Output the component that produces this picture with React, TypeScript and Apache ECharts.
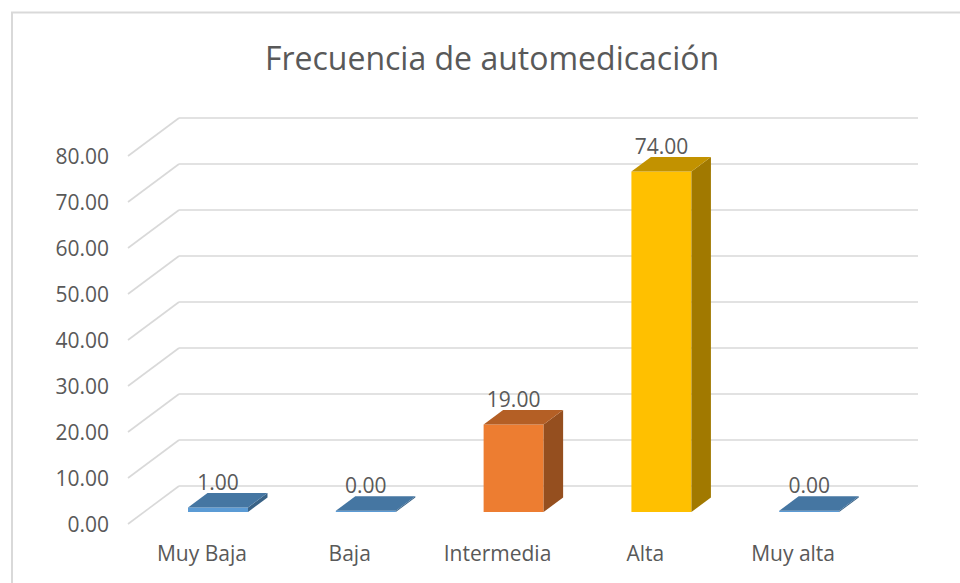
import React, { useEffect, useRef } from 'react';
import * as echarts from 'echarts';

const CATEGORIES = ['Muy Baja', 'Baja', 'Intermedia', 'Alta', 'Muy alta'];
const VALUES = [1, 0, 19, 74, 0];
const BAR_COLORS = ['#5B9BD5', '#5B9BD5', '#ED7D31', '#FFC000', '#5B9BD5'];
const Y_TICKS = [0, 10, 20, 30, 40, 50, 60, 70, 80];
const TITLE = 'Frecuencia de automedicación';

const FONT = '"Open Sans", "Noto Sans", sans-serif';
const TEXT_COLOR = '#595959';
const GRID_COLOR = '#D9D9D9';

// oblique 3D projection (floor depth, back -> front)
const FLOOR_DX = 51;
const FLOOR_DY = 38;
const BAR_FRONT = 0.684;
const BAR_DX = 19.5;
const BAR_DY = 14.5;
const BAR_W = 0.406;

function shade(hex: string, f: number): string {
  const n = parseInt(hex.slice(1), 16);
  const r = Math.round(((n >> 16) & 255) * f);
  const g = Math.round(((n >> 8) & 255) * f);
  const b = Math.round((n & 255) * f);
  return '#' + [r, g, b].map((c) => c.toString(16).padStart(2, '0')).join('');
}

export default function App() {
  const ref = useRef<HTMLDivElement>(null);

  useEffect(() => {
    if (!ref.current) return;
    const chart = echarts.init(ref.current, undefined, { renderer: 'svg' });

    const option: any = {
      animation: false,
      graphic: [
        {
          type: 'rect',
          shape: { x: 12, y: 12.5, width: 980, height: 600 },
          style: { fill: 'none', stroke: GRID_COLOR, lineWidth: 2 },
          silent: true,
        },
        {
          type: 'text',
          x: 492,
          y: 57,
          style: {
            text: TITLE,
            font: `32px ${FONT}`,
            fill: TEXT_COLOR,
            align: 'center',
            verticalAlign: 'middle',
          },
          silent: true,
        },
      ],
      grid: [
        // back wall
        { left: 179, right: 42, top: 118, bottom: 97 },
        // front plane
        { left: 128, right: 93, top: 156, bottom: 59 },
      ],
      xAxis: [
        {
          type: 'category',
          gridIndex: 0,
          data: CATEGORIES,
          show: false,
        },
        {
          type: 'category',
          gridIndex: 1,
          data: CATEGORIES,
          axisLine: { show: false },
          axisTick: { show: false },
          axisLabel: {
            margin: 18,
            color: TEXT_COLOR,
            fontFamily: FONT,
            fontSize: 21,
          },
        },
      ],
      yAxis: [
        {
          type: 'value',
          gridIndex: 0,
          min: 0,
          max: 80,
          interval: 10,
          axisLine: { show: false },
          axisTick: { show: false },
          axisLabel: { show: false },
          splitLine: { show: true, lineStyle: { color: GRID_COLOR, width: 1.6 } },
        },
        {
          type: 'value',
          gridIndex: 1,
          min: 0,
          max: 80,
          interval: 10,
          axisLine: { show: false },
          axisTick: { show: false },
          splitLine: { show: false },
          axisLabel: {
            margin: 19,
            color: TEXT_COLOR,
            fontFamily: FONT,
            fontSize: 21,
            formatter: (v: number) => v.toFixed(2),
          },
        },
      ],
      series: [
        {
          type: 'custom',
          xAxisIndex: 0,
          yAxisIndex: 0,
          clip: false,
          silent: true,
          z: 1,
          data: Y_TICKS.map((v) => [0, v]),
          renderItem: (params: any, api: any) => {
            const p = api.coord([0, api.value(1)]);
            const x0 = params.coordSys.x;
            return {
              type: 'line',
              shape: { x1: x0, y1: p[1], x2: x0 - FLOOR_DX, y2: p[1] + FLOOR_DY },
              style: { stroke: GRID_COLOR, lineWidth: 1.6 },
            };
          },
        },
        {
          type: 'custom',
          xAxisIndex: 0,
          yAxisIndex: 0,
          clip: false,
          silent: true,
          z: 5,
          data: VALUES.map((v, i) => [i, v]),
          renderItem: (params: any, api: any) => {
            const i = api.value(0);
            const v = api.value(1);
            const base = api.coord([i, 0]);
            const top = api.coord([i, v]);
            const band = api.size([1, 0])[0];
            const w = band * BAR_W;
            const sx = -FLOOR_DX * BAR_FRONT;
            const sy = FLOOR_DY * BAR_FRONT;
            const xl = base[0] + sx - w / 2;
            const xr = xl + w;
            const yb = base[1] + sy;
            const frontH = Math.max(yb - (top[1] + sy), 1.2);
            const yt = yb - frontH;
            const color = BAR_COLORS[i];
            return {
              type: 'group',
              children: [
                {
                  type: 'rect',
                  shape: { x: xl, y: yt, width: w, height: frontH },
                  style: { fill: color },
                },
                {
                  type: 'polygon',
                  shape: {
                    points: [
                      [xr, yt],
                      [xr + BAR_DX, yt - BAR_DY],
                      [xr + BAR_DX, yb - BAR_DY],
                      [xr, yb],
                    ],
                  },
                  style: { fill: shade(color, 0.63) },
                },
                {
                  type: 'polygon',
                  shape: {
                    points: [
                      [xl, yt],
                      [xr, yt],
                      [xr + BAR_DX, yt - BAR_DY],
                      [xl + BAR_DX, yt - BAR_DY],
                    ],
                  },
                  style: { fill: shade(color, 0.76) },
                },
                {
                  type: 'text',
                  x: (xl + xr) / 2,
                  y: yt - BAR_DY - 11,
                  style: {
                    text: v.toFixed(2),
                    font: `21px ${FONT}`,
                    fill: TEXT_COLOR,
                    align: 'center',
                    verticalAlign: 'middle',
                  },
                },
              ],
            };
          },
        },
      ],
    };

    chart.setOption(option);
    return () => chart.dispose();
  }, []);

  return (
    <div
      ref={ref}
      style={{ position: 'fixed', left: 0, top: 0, width: 960, height: 583, background: '#fff' }}
    />
  );
}
